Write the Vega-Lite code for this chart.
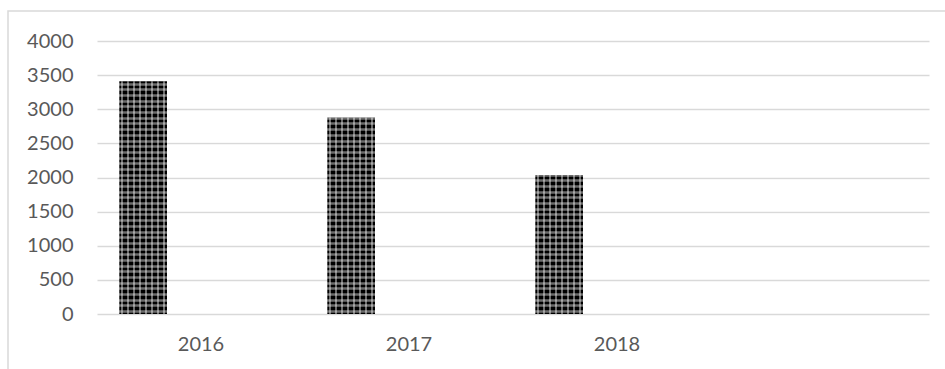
{
  "$schema": "https://vega.github.io/schema/vega-lite/v6.json",
  "width": 939,
  "height": 360,
  "autosize": {"type": "none"},
  "padding": {"left": 8, "top": 11, "right": 0, "bottom": 0},
  "background": "white",
  "view": {"stroke": "#d9d9d9", "strokeWidth": 1.5},
  "data": {
    "values": [
      {"year": "2016", "value": 3410, "series": "A"},
      {"year": "2017", "value": 2880, "series": "A"},
      {"year": "2018", "value": 2035, "series": "A"}
    ]
  },
  "encoding": {
    "x": {
      "field": "year",
      "type": "nominal",
      "sort": null,
      "scale": {"domain": ["2016", "2017", "2018", ""], "range": [89, 921], "paddingInner": 0, "paddingOuter": 0},
      "axis": {
        "title": null,
        "domain": false,
        "ticks": false,
        "tickSize": 0,
        "grid": false,
        "labelAngle": 0,
        "labelFont": "Lato",
        "labelFontSize": 20,
        "labelColor": "#595959",
        "labelPadding": 20,
        "offset": -57
      }
    },
    "xOffset": {
      "field": "series",
      "type": "nominal",
      "scale": {"domain": ["A", "B"], "paddingInner": 0.5877, "paddingOuter": 0.1927}
    }
  },
  "layer": [
    {
      "mark": {"type": "bar", "fill": "#000000"},
      "encoding": {
        "y": {
          "field": "value",
          "type": "quantitative",
          "scale": {"domain": [0, 4000], "range": [303, 30], "nice": false},
          "axis": {
            "title": null,
            "orient": "left",
            "values": [0, 500, 1000, 1500, 2000, 2500, 3000, 3500, 4000],
            "format": "d",
            "grid": true,
            "gridColor": "#d9d9d9",
            "gridWidth": 1.4,
            "domain": false,
            "ticks": false,
            "tickSize": 0,
            "labelFont": "Lato",
            "labelFontSize": 20,
            "labelColor": "#595959",
            "labelPadding": 0,
            "offset": -65
          }
        }
      }
    },
    {
      "mark": {
        "type": "bar",
        "fill": {
          "gradient": "linear",
          "x1": 0, "y1": 0, "x2": 1, "y2": 0,
          "stops": [
            {"offset": 0.0375, "color": "rgba(255,255,255,0)"},
            {"offset": 0.0375, "color": "rgba(255,255,255,0.42)"},
            {"offset": 0.0875, "color": "rgba(255,255,255,0.42)"},
            {"offset": 0.0875, "color": "rgba(255,255,255,0)"},
            {"offset": 0.1625, "color": "rgba(255,255,255,0)"},
            {"offset": 0.1625, "color": "rgba(255,255,255,0.42)"},
            {"offset": 0.2125, "color": "rgba(255,255,255,0.42)"},
            {"offset": 0.2125, "color": "rgba(255,255,255,0)"},
            {"offset": 0.2875, "color": "rgba(255,255,255,0)"},
            {"offset": 0.2875, "color": "rgba(255,255,255,0.42)"},
            {"offset": 0.3375, "color": "rgba(255,255,255,0.42)"},
            {"offset": 0.3375, "color": "rgba(255,255,255,0)"},
            {"offset": 0.4125, "color": "rgba(255,255,255,0)"},
            {"offset": 0.4125, "color": "rgba(255,255,255,0.42)"},
            {"offset": 0.4625, "color": "rgba(255,255,255,0.42)"},
            {"offset": 0.4625, "color": "rgba(255,255,255,0)"},
            {"offset": 0.5375, "color": "rgba(255,255,255,0)"},
            {"offset": 0.5375, "color": "rgba(255,255,255,0.42)"},
            {"offset": 0.5875, "color": "rgba(255,255,255,0.42)"},
            {"offset": 0.5875, "color": "rgba(255,255,255,0)"},
            {"offset": 0.6625, "color": "rgba(255,255,255,0)"},
            {"offset": 0.6625, "color": "rgba(255,255,255,0.42)"},
            {"offset": 0.7125, "color": "rgba(255,255,255,0.42)"},
            {"offset": 0.7125, "color": "rgba(255,255,255,0)"},
            {"offset": 0.7875, "color": "rgba(255,255,255,0)"},
            {"offset": 0.7875, "color": "rgba(255,255,255,0.42)"},
            {"offset": 0.8375, "color": "rgba(255,255,255,0.42)"},
            {"offset": 0.8375, "color": "rgba(255,255,255,0)"},
            {"offset": 0.9125, "color": "rgba(255,255,255,0)"},
            {"offset": 0.9125, "color": "rgba(255,255,255,0.42)"},
            {"offset": 0.9625, "color": "rgba(255,255,255,0.42)"},
            {"offset": 0.9625, "color": "rgba(255,255,255,0)"}
          ]
        }
      },
      "encoding": {
        "y": {
          "field": "value",
          "type": "quantitative",
          "axis": {
            "title": null,
            "orient": "left",
            "values": [41.667, 125, 208.333, 291.667, 375, 458.333, 541.667, 625, 708.333, 791.667, 875, 958.333, 1041.667, 1125, 1208.333, 1291.667, 1375, 1458.333, 1541.667, 1625, 1708.333, 1791.667, 1875, 1958.333, 2041.667, 2125, 2208.333, 2291.667, 2375, 2458.333, 2541.667, 2625, 2708.333, 2791.667, 2875, 2958.333, 3041.667, 3125, 3208.333, 3291.667, 3375],
            "labels": false,
            "domain": false,
            "ticks": false,
            "tickSize": 0,
            "grid": true,
            "gridColor": "#ffffff",
            "gridOpacity": 0.42,
            "gridWidth": 2.3,
            "zindex": 1,
            "offset": 0
          }
        }
      }
    }
  ],
  "resolve": {"axis": {"y": "independent"}}
}
